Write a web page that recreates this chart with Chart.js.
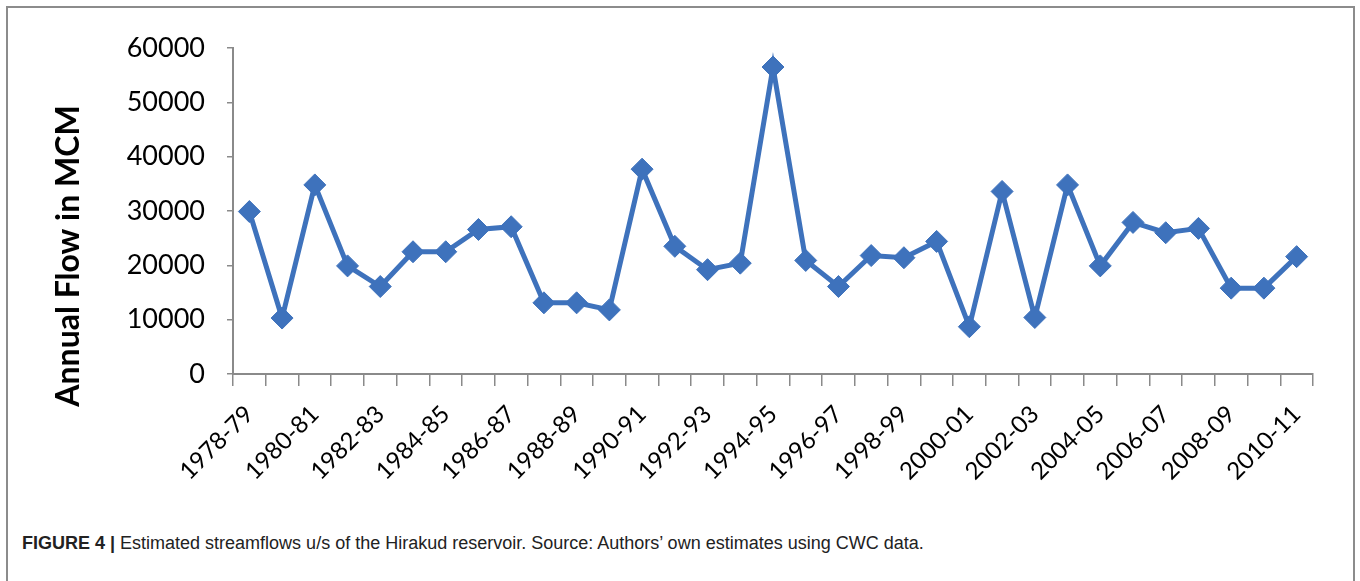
<!DOCTYPE html>
<html>
<head>
<meta charset="utf-8">
<script src="https://cdn.jsdelivr.net/npm/chart.js@4"></script>
<style>
  html, body { margin: 0; padding: 0; background: #fff; }
  body { width: 1360px; height: 581px; position: relative; overflow: hidden; }
  #frame {
    position: absolute; left: 6px; top: 6px; width: 1349px; height: 590px;
    border: 2px solid #8c8c8c; box-sizing: border-box;
  }
  #wrap { position: absolute; left: 0; top: 0; width: 1360px; height: 520px; }
  #caption {
    position: absolute; left: 22px; top: 533px;
    font-family: "Liberation Sans", Arial, sans-serif; font-size: 18px; color: #222;
    white-space: nowrap;
  }
  #caption b { font-weight: bold; }
</style>
</head>
<body>
<div id="frame"></div>
<div id="wrap"><canvas id="flowChart"></canvas></div>
<div id="caption"><b>FIGURE 4 |</b> Estimated streamflows u/s of the Hirakud reservoir. Source: Authors’ own estimates using CWC data.</div>
<script>
const years = [
    '1978-79', '1979-80', '1980-81', '1981-82', '1982-83', '1983-84', '1984-85',
    '1985-86', '1986-87', '1987-88', '1988-89', '1989-90', '1990-91', '1991-92',
    '1992-93', '1993-94', '1994-95', '1995-96', '1996-97', '1997-98', '1998-99',
    '1999-00', '2000-01', '2001-02', '2002-03', '2003-04', '2004-05', '2005-06',
    '2006-07', '2007-08', '2008-09', '2009-10', '2010-11'
];

const annualFlow = [
    29900, 10300, 34800, 19900, 16100, 22500, 22500, 26600, 27100, 13100, 13100,
    11800, 37700, 23500, 19200, 20400, 56500, 20900, 16100, 21800, 21400, 24400,
    8700, 33600, 10400, 34800, 19900, 27900, 26000, 26800, 15800, 15800, 21600
];

const yTicks = [0, 10000, 20000, 30000, 40000, 50000, 60000];

const axisTitle = 'Annual Flow in MCM';

// y title sits lower than the chart-area middle, so it is drawn by hand
const yTitlePlugin = {
    id: 'yTitle',
    afterDraw(chart) {
        const ctx = chart.ctx;
        ctx.save();
        ctx.translate(69, 256);
        ctx.rotate(-Math.PI / 2);
        ctx.font = 'bold 32px Lato';
        ctx.fillStyle = '#000';
        ctx.textAlign = 'center';
        ctx.textBaseline = 'middle';
        ctx.fillText(axisTitle, 0, 0);
        ctx.restore();
    }
};

const ctx = document.getElementById('flowChart').getContext('2d');

new Chart(ctx, {
    type: 'line',
    data: {
        labels: years,
        datasets: [{
            label: axisTitle,
            data: annualFlow,
            borderColor: '#3e72bc',
            backgroundColor: '#3e72bc',
            borderWidth: 5,
            pointStyle: 'rectRot',
            pointRadius: 11,
            pointHoverRadius: 11,
            pointBorderWidth: 1,
            tension: 0
        }]
    },
    options: {
        responsive: true,
        maintainAspectRatio: false,
        animation: false,
        layout: {
            padding: { top: 48, right: 47, left: 0, bottom: 0 }
        },
        scales: {
            x: {
                offset: true,
                afterFit: (scale) => { scale.height = 146; },
                grid: {
                    offset: true,
                    drawOnChartArea: false,
                    drawTicks: true,
                    tickLength: 12,
                    color: '#8a8a8a',
                    lineWidth: 1.5
                },
                border: { display: true, color: '#8a8a8a', width: 2 },
                ticks: {
                    autoSkip: false,
                    maxRotation: 45,
                    minRotation: 45,
                    color: '#000',
                    padding: 14,
                    font: { family: 'Lato', size: 24 },
                    callback: function (value, index) {
                        return index % 2 === 0 ? this.getLabelForValue(value) : '';
                    }
                }
            },
            y: {
                min: 0,
                max: 60000,
                afterFit: (scale) => { scale.width = 233; },
                afterBuildTicks: (scale) => { scale.ticks = yTicks.map(v => ({ value: v })); },
                grid: {
                    drawOnChartArea: false,
                    drawTicks: true,
                    tickLength: 6,
                    color: '#8a8a8a',
                    lineWidth: 1.5
                },
                border: { display: true, color: '#8a8a8a', width: 2 },
                ticks: {
                    color: '#000',
                    padding: 22,
                    font: { family: 'Lato', size: 27 },
                    callback: (value) => String(value)
                }
            }
        },
        plugins: {
            legend: { display: false },
            tooltip: { enabled: false }
        }
    },
    plugins: [yTitlePlugin]
});
</script>
</body>
</html>
